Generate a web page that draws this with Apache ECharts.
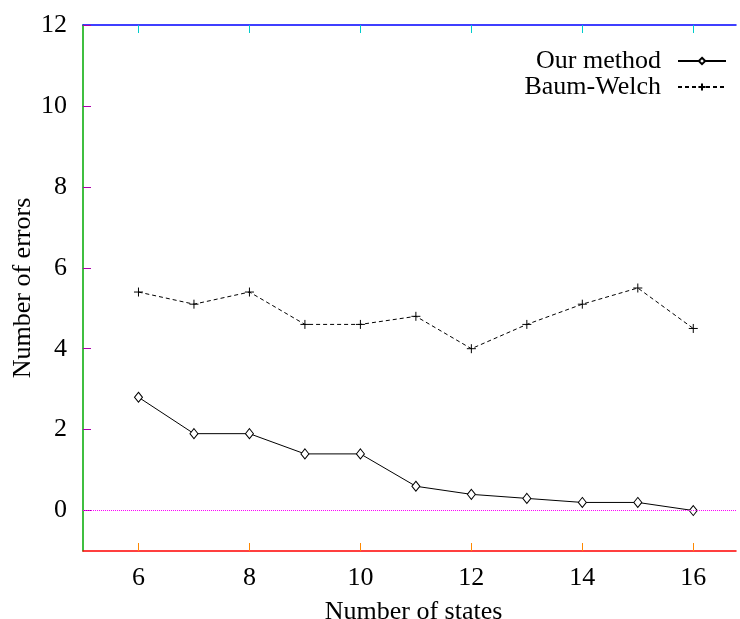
<!DOCTYPE html>
<html>
<head>
<meta charset="utf-8">
<script src="https://cdn.jsdelivr.net/npm/echarts@6/dist/echarts.min.js"></script>
<style>
  html, body { margin: 0; padding: 0; background: #fff; }
  #main { width: 740px; height: 619px; }
</style>
</head>
<body>
<div id="main"></div>
<script>
// data
var states = [6, 7, 8, 9, 10, 11, 12, 13, 14, 15, 16];
var ourMethod = [2.8, 1.9, 1.9, 1.4, 1.4, 0.6, 0.4, 0.3, 0.2, 0.2, 0];
var baumWelch = [5.4, 5.1, 5.4, 4.6, 4.6, 4.8, 4.0, 4.6, 5.1, 5.5, 4.5];
var xTicks = [6, 8, 10, 12, 14, 16];
var yTicks = [0, 2, 4, 6, 8, 10, 12];

var font = 'Liberation Serif';

function pairs(xs, ys) {
  var out = [];
  for (var i = 0; i < xs.length; i++) out.push([xs[i], ys[i]]);
  return out;
}

var chart = echarts.init(document.getElementById('main'));

var legendText = { fontFamily: font, fontSize: 26, color: '#000', padding: [0, 12, 0, 0] };

chart.setOption({
  animation: false,
  textStyle: { fontFamily: font },
  grid: { left: 83, top: 25, right: 4, bottom: 68, outerBoundsMode: 'none', containLabel: false },
  legend: [
    {
      data: ['Our method'], right: 13, top: 48, align: 'right', padding: 0,
      itemWidth: 48, itemHeight: 8, itemGap: 0, textStyle: legendText
    },
    {
      data: ['Baum-Welch'], right: 13, top: 74, align: 'right', padding: 0,
      itemWidth: 48, itemHeight: 9, itemGap: 0, textStyle: legendText
    }
  ],
  xAxis: [
    {
      type: 'value', min: 5, max: 16.77, position: 'bottom',
      name: 'Number of states', nameLocation: 'middle', nameGap: 48,
      nameTextStyle: { fontFamily: font, fontSize: 26, color: '#000', padding: [0, 0, 0, 8] },
      splitLine: { show: false },
      axisLine: { onZero: false, lineStyle: { color: '#f00', width: 1.5 } },
      axisTick: { inside: true, length: 8, customValues: xTicks, lineStyle: { color: '#f80' } },
      axisLabel: { customValues: xTicks, margin: 14, fontFamily: font, fontSize: 26, color: '#000' }
    },
    {
      type: 'value', min: 5, max: 16.77, position: 'top',
      splitLine: { show: false },
      axisLine: { onZero: false, lineStyle: { color: '#00f', width: 1.5 } },
      axisTick: { inside: true, length: 8, customValues: xTicks, lineStyle: { color: '#0cc' } },
      axisLabel: { show: false }
    }
  ],
  yAxis: {
    type: 'value', min: -1, max: 12,
    name: 'Number of errors', nameLocation: 'middle', nameGap: 47, nameMoveOverlap: false,
    nameTextStyle: { fontFamily: font, fontSize: 26, color: '#000' },
    splitLine: { show: false },
    axisLine: { show: true, onZero: false, lineStyle: { color: '#0a0', width: 1.5 } },
    axisTick: { show: true, inside: true, length: 8, customValues: yTicks, lineStyle: { color: '#a0a' } },
    axisLabel: { customValues: yTicks, margin: 16, fontFamily: font, fontSize: 26, color: '#000' }
  },
  series: [
    {
      name: 'Our method', type: 'line',
      data: pairs(states, ourMethod),
      symbol: 'diamond', symbolSize: [8, 10], showAllSymbol: true,
      itemStyle: { color: '#fff', borderColor: '#000', borderWidth: 1 },
      lineStyle: { color: '#000', width: 1 },
      markLine: {
        silent: true, symbol: 'none', label: { show: false },
        lineStyle: { color: '#f0f', type: 'dotted', width: 1 },
        data: [{ yAxis: 0 }]
      },
      z: 3
    },
    {
      name: 'Baum-Welch', type: 'line',
      data: pairs(states, baumWelch),
      symbol: 'path://M5,0V10M0,5H10', symbolSize: 9, symbolKeepAspect: true,
      itemStyle: { color: '#000', borderColor: '#000', borderWidth: 1 },
      lineStyle: { color: '#000', width: 1, type: [4, 3] },
      z: 3
    }
  ]
});
</script>
</body>
</html>
